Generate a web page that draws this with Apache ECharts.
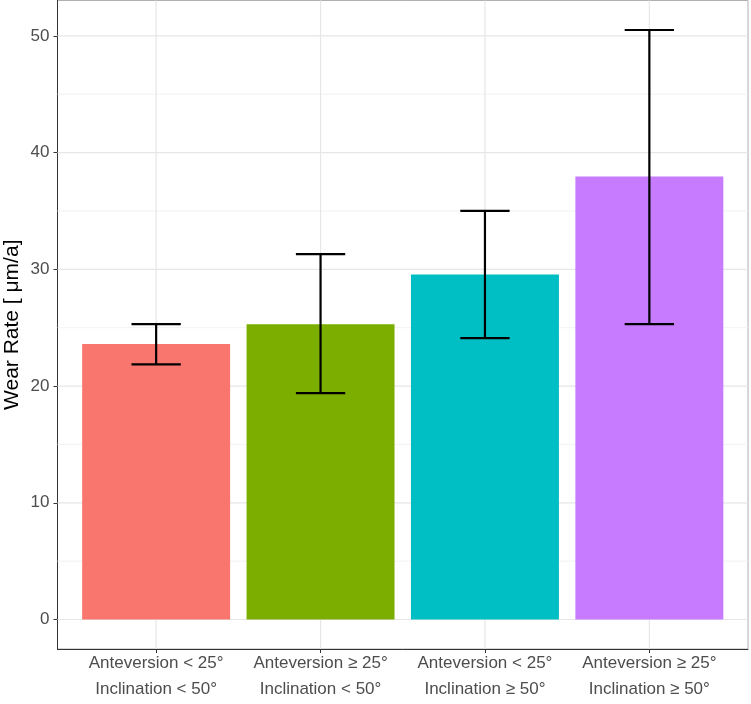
<!DOCTYPE html>
<html>
<head>
<meta charset="utf-8">
<script src="https://cdn.jsdelivr.net/npm/echarts@6/dist/echarts.min.js"></script>
<style>html,body{margin:0;padding:0;background:#fff}#c{width:751px;height:704px}</style>
</head>
<body>
<div id="c"></div>
<script>
const anteversionLabels = ['Anteversion < 25°', 'Anteversion ≥ 25°', 'Anteversion < 25°', 'Anteversion ≥ 25°'];
const inclinationLabels = ['Inclination < 50°', 'Inclination < 50°', 'Inclination ≥ 50°', 'Inclination ≥ 50°'];
const positions = [1, 2, 3, 4];
const meanValues = [23.6, 25.3, 29.55, 37.95];
const lowerValues = [21.85, 19.4, 24.1, 25.3];
const upperValues = [25.3, 31.3, 35.0, 50.5];
const barColors = ['#F8766D', '#7CAE00', '#00BFC4', '#C77CFF'];
const yTicks = [0, 10, 20, 30, 40, 50];
const yMinorGrid = [5, 15, 25, 35, 45];

const FONT = '"Liberation Sans", Arial, sans-serif';
const X_MIN = 0.4, X_MAX = 4.6;
const Y_MIN = -2.525, Y_MAX = 53.025;

const chart = echarts.init(document.getElementById('c'), null, {renderer: 'canvas'});

function hLine(color, width) {
  return function (params, api) {
    const v = api.value(0);
    const a = api.coord([X_MIN, v]);
    const b = api.coord([X_MAX, v]);
    return {type: 'line', shape: {x1: a[0], y1: a[1], x2: b[0], y2: b[1]},
      style: {stroke: color, lineWidth: width}};
  };
}

chart.setOption({
  animation: false,
  backgroundColor: '#fff',
  grid: {left: 57.5, top: 0.5, right: 3, bottom: 55, containLabel: false, outerBoundsMode: 'none',
    show: true, borderColor: '#b0b0b0', borderWidth: 1, backgroundColor: '#fff'},
  xAxis: {
    type: 'value', min: X_MIN, max: X_MAX,
    axisLine: {show: true, onZero: false, lineStyle: {color: '#333', width: 1}},
    axisTick: {show: true, length: 4, customValues: positions, lineStyle: {color: '#333'}},
    axisLabel: {
      customValues: positions, margin: 1,
      color: '#4d4d4d', fontSize: 17, fontFamily: FONT, lineHeight: 26,
      formatter: function (v) {
        const i = positions.indexOf(v);
        return i < 0 ? '' : anteversionLabels[i] + '\n' + inclinationLabels[i];
      }
    },
    splitLine: {show: false}
  },
  yAxis: {
    type: 'value', min: Y_MIN, max: Y_MAX,
    name: 'Wear Rate [ μm/a]', nameLocation: 'middle', nameGap: 35, nameMoveOverlap: false,
    nameTextStyle: {fontSize: 21, color: '#000', fontFamily: FONT},
    axisLine: {show: true, onZero: false, lineStyle: {color: '#333', width: 1}},
    axisTick: {show: true, length: 4, customValues: yTicks, lineStyle: {color: '#333'}},
    axisLabel: {customValues: yTicks, margin: 8, color: '#4d4d4d', fontSize: 17, fontFamily: FONT},
    splitLine: {show: false}
  },
  series: [
    {
      type: 'custom', z: 1, silent: true,
      data: yMinorGrid.map(v => [v]),
      encode: {y: 0},
      renderItem: hLine('#f2f2f2', 1)
    },
    {
      type: 'custom', z: 1, silent: true,
      data: yTicks.map(v => [v]),
      encode: {y: 0},
      renderItem: hLine('#e6e6e6', 1.2)
    },
    {
      type: 'custom', z: 1, silent: true,
      data: positions.map(v => [v]),
      encode: {x: 0},
      renderItem: function (params, api) {
        const v = api.value(0);
        const a = api.coord([v, Y_MIN]);
        const b = api.coord([v, Y_MAX]);
        return {type: 'line', shape: {x1: a[0], y1: a[1], x2: b[0], y2: b[1]},
          style: {stroke: '#e6e6e6', lineWidth: 1.2}};
      }
    },
    {
      type: 'custom', z: 2, silent: true,
      data: positions.map((p, i) => [p, meanValues[i]]),
      encode: {x: 0, y: 1},
      renderItem: function (params, api) {
        const x = api.value(0), v = api.value(1);
        const p1 = api.coord([x - 0.45, v]);
        const p2 = api.coord([x + 0.45, 0]);
        return {type: 'rect', shape: {x: p1[0], y: p1[1], width: p2[0] - p1[0], height: p2[1] - p1[1]},
          style: {fill: barColors[params.dataIndex]}};
      }
    },
    {
      type: 'custom', z: 3, silent: true,
      data: positions.map((p, i) => [p, lowerValues[i], upperValues[i]]),
      encode: {x: 0, y: [1, 2]},
      renderItem: function (params, api) {
        const x = api.value(0), lo = api.value(1), hi = api.value(2);
        const top = api.coord([x, hi]), bot = api.coord([x, lo]);
        const l = api.coord([x - 0.15, hi])[0], r = api.coord([x + 0.15, hi])[0];
        const st = {stroke: '#000', lineWidth: 2.2};
        return {type: 'group', children: [
          {type: 'line', shape: {x1: top[0], y1: top[1], x2: bot[0], y2: bot[1]}, style: st},
          {type: 'line', shape: {x1: l, y1: top[1], x2: r, y2: top[1]}, style: st},
          {type: 'line', shape: {x1: l, y1: bot[1], x2: r, y2: bot[1]}, style: st}
        ]};
      }
    }
  ]
});
</script>
</body>
</html>
